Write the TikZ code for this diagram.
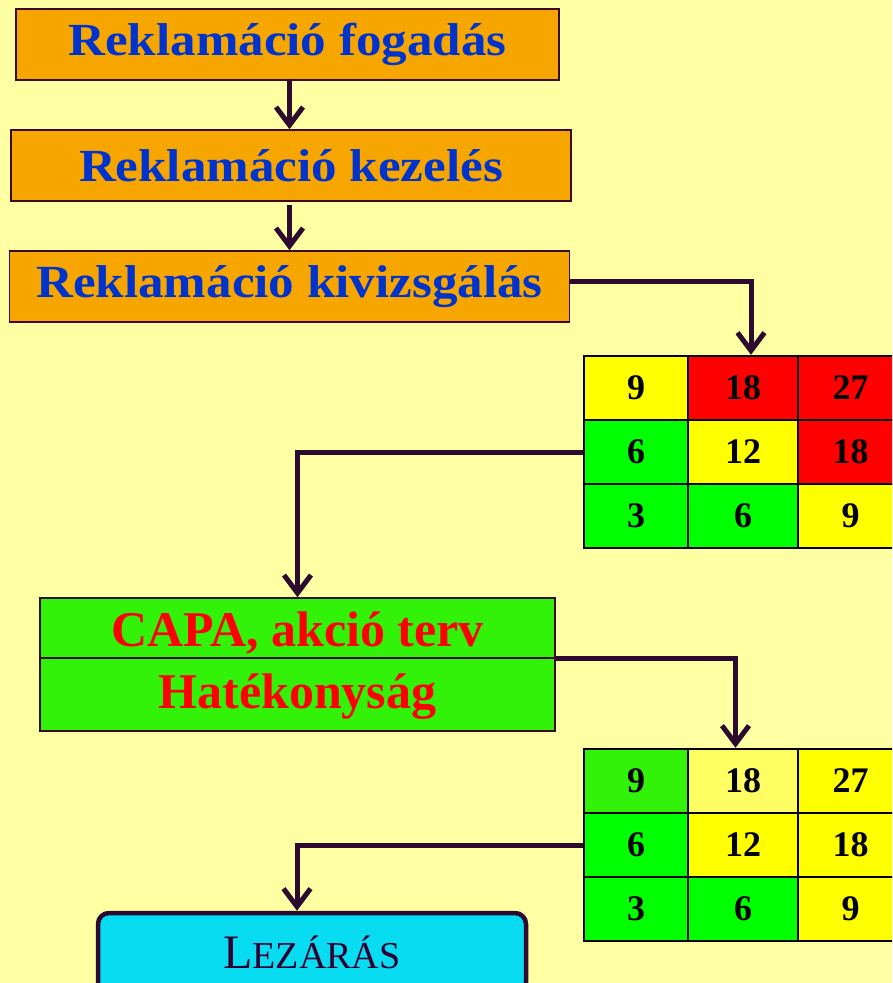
\documentclass[tikz,border=0pt]{standalone}
\usepackage{fontspec}
\setmainfont{Liberation Serif}
\usepackage{graphicx}
\usetikzlibrary{arrows.meta}

\definecolor{bg}{RGB}{255,255,163}
\definecolor{amber}{RGB}{247,166,0}
\definecolor{titleblue}{RGB}{0,51,204}
\definecolor{boxline}{RGB}{60,10,40}
\definecolor{connline}{RGB}{45,10,48}
\definecolor{capagreen}{RGB}{51,242,10}
\definecolor{cgreen}{RGB}{0,255,0}
\definecolor{cyellow}{RGB}{255,255,0}
\definecolor{cred}{RGB}{255,0,0}
\definecolor{paleyellow}{RGB}{255,255,100}
\definecolor{closecyan}{RGB}{8,220,240}
\definecolor{closetext}{RGB}{51,0,51}

\newcommand{\widetitle}[1]{\scalebox{1.11}[1]{#1}}

\tikzset{
  stepbox/.style={draw=boxline, line width=1.6pt, fill=amber, text=titleblue,
    font=\fontsize{46}{50}\selectfont\bfseries, inner sep=0pt,
    minimum height=71pt},
  capabox/.style={draw=boxline, line width=1.6pt, fill=capagreen,
    inner sep=0pt, minimum width=515pt},
  capatext/.style={text=red, font=\fontsize{50}{54}\selectfont\bfseries,
    inner sep=0pt, anchor=base},
  cell/.style={draw=black, line width=2.4pt, inner sep=0pt,
    font=\fontsize{36}{40}\selectfont\bfseries, minimum height=64pt},
  conn/.style={draw=connline, line width=5pt,
    -{Straight Barb[length=18pt,width=27pt,line width=5pt]}},
  closebox/.style={draw=connline, line width=4.5pt, fill=closecyan,
    rounded corners=11pt, inner sep=0pt}
}

\begin{document}
\begin{tikzpicture}[x=1pt,y=-1pt]
\useasboundingbox (0,0) rectangle (892,983);
\clip (0,0) rectangle (892,983);
\fill[bg] (0,0) rectangle (892,983);

% process steps
\node[stepbox, minimum width=543pt] (fog) at (287.5,44.5) {\widetitle{Reklamáció fogadás}};
\node[stepbox, minimum width=560pt] (kez) at (291,165.5) {\widetitle{Reklamáció kezelés}};
\node[stepbox, minimum width=560pt] (viz) at (289.5,286.5) {\widetitle{Reklamáció kivizsgálás}};

% risk matrix before action
\foreach \r/\c/\x/\w/\y/\v/\f in {
  1/1/636/104/388/9/cyellow, 1/2/743/110/388/18/cred, 1/3/850.5/105/388/27/cred,
  2/1/636/104/452/6/cgreen,  2/2/743/110/452/12/cyellow, 2/3/850.5/105/452/18/cred,
  3/1/636/104/516/3/cgreen,  3/2/743/110/516/6/cgreen, 3/3/850.5/105/516/9/cyellow}
  \node[cell, fill=\f, minimum width=\w pt] (m1-\r-\c) at (\x,\y) {\v};

% corrective action
\node[capabox, minimum height=60pt] (capa1) at (297.5,628) {};
\node[capabox, minimum height=73pt] (capa2) at (297.5,694.5) {};
\node[capatext] (capa1t) at (297.5,646.5) {CAPA, akció terv};
\node[capatext] (capa2t) at (297.5,708) {Hatékonyság};

% risk matrix after action
\foreach \r/\c/\x/\w/\y/\v/\f in {
  1/1/636/104/781/9/capagreen, 1/2/743/110/781/18/paleyellow, 1/3/850.5/105/781/27/cyellow,
  2/1/636/104/845/6/cgreen,  2/2/743/110/845/12/cyellow, 2/3/850.5/105/845/18/cyellow,
  3/1/636/104/909/3/cgreen,  3/2/743/110/909/6/cgreen, 3/3/850.5/105/909/9/cyellow}
  \node[cell, fill=\f, minimum width=\w pt] (m2-\r-\c) at (\x,\y) {\v};

% closing
\node[closebox, minimum width=428pt, minimum height=80pt] (lez) at (312,953) {};
\node[text=closetext, inner sep=0pt, anchor=base] (lezt) at (312,968)
  {\fontsize{48}{52}\selectfont L\fontsize{38}{42}\selectfont EZÁRÁS};

% connectors
\coordinate (fogout) at (fog.south -| 289.5,0);
\draw[conn] (fogout) -- (fogout |- kez.north);
\coordinate (kezout) at ([yshift=-3pt]kez.south -| 289.5,0);
\draw[conn] (kezout) -- (kezout |- viz.north);
\draw[conn] ([yshift=5pt]viz.east) -| ([xshift=8pt]m1-1-2.north);
\draw[conn] (m1-2-1.west) -| (capa1.north);
\draw[conn] (capa1.south east) -| ([xshift=-7.5pt]m2-1-2.north);
\coordinate (lezin) at ([xshift=-15pt]lez.north);
\draw[conn] (m2-2-1.west) -| (lezin);
\end{tikzpicture}
\end{document}
